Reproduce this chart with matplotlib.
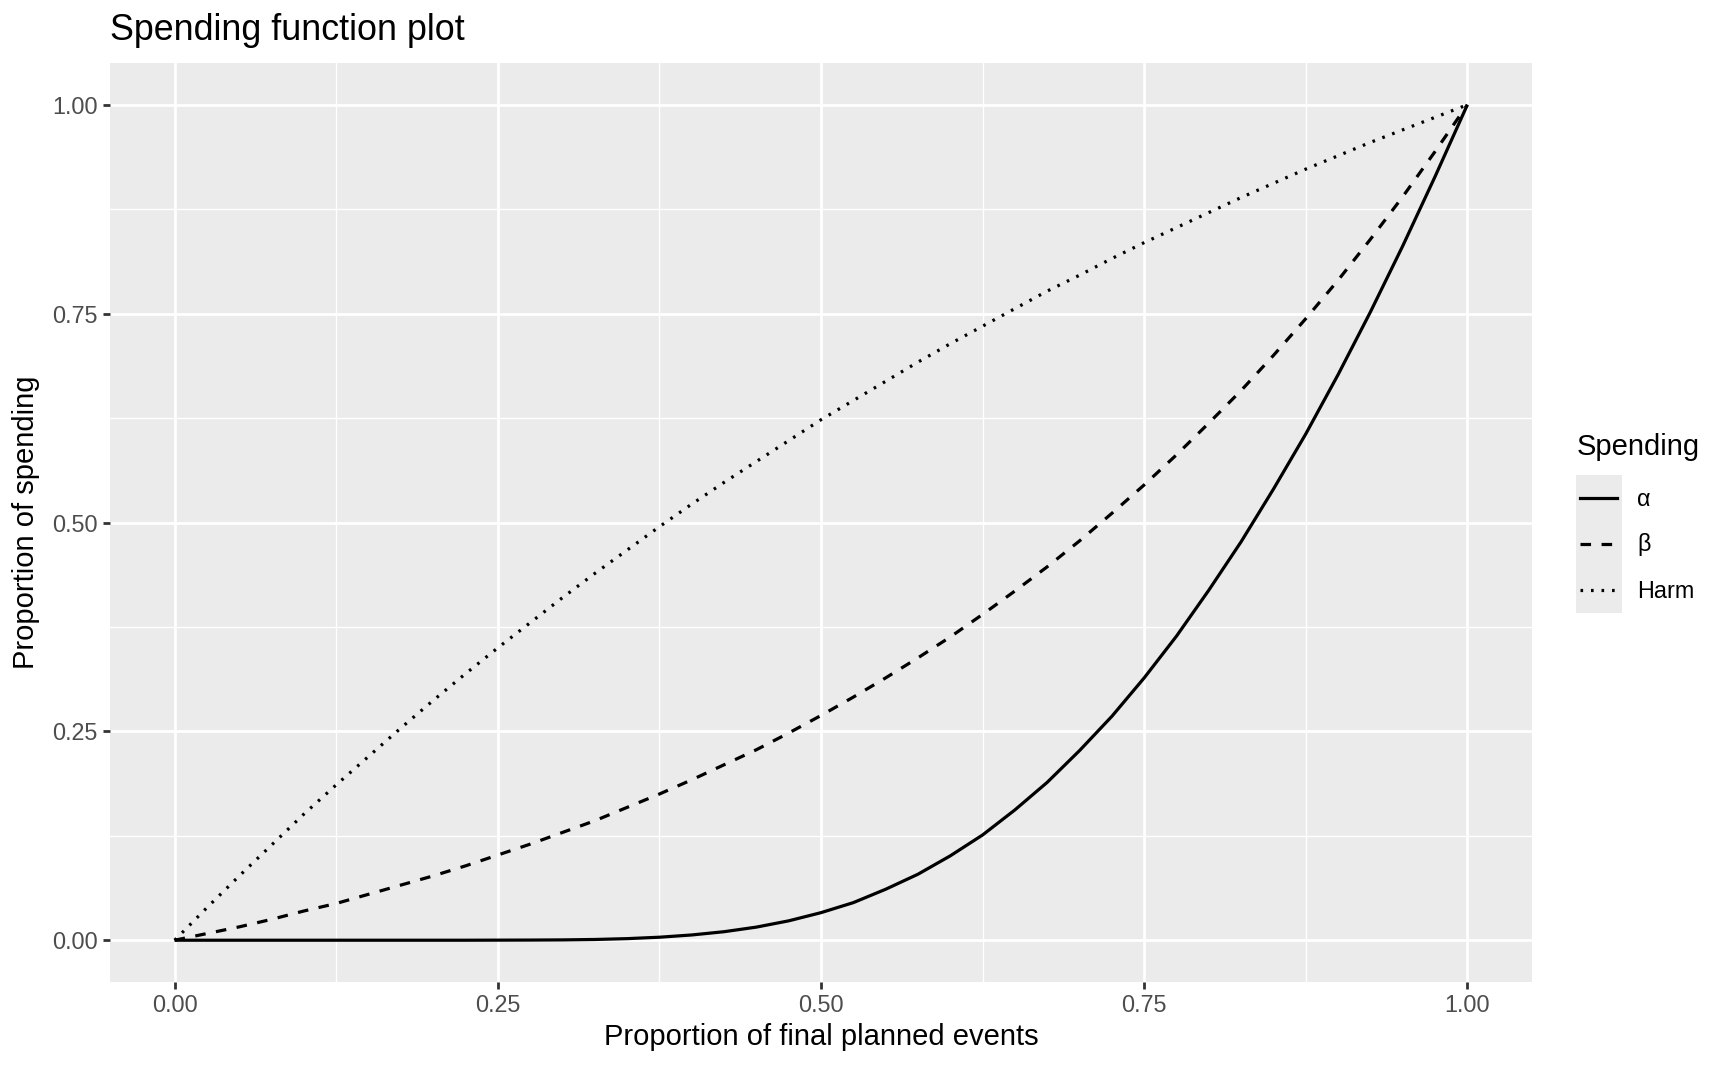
import numpy as np
import matplotlib
matplotlib.use("Agg")
import matplotlib.pyplot as plt
from matplotlib.lines import Line2D

plt.rcParams['font.family'] = ['Liberation Sans', 'DejaVu Sans']

# proportion of final planned events
timing = np.arange(41) / 40

# cumulative proportion of spending
alpha_spend = [0, 0, 0, 0, 0, 0, 0, 0, 0, 0,
               0.0001, 0.0002, 0.0004, 0.0009, 0.0019, 0.0036, 0.0063, 0.0102, 0.0157, 0.0232,
               0.033, 0.045, 0.061, 0.079, 0.101, 0.126, 0.156, 0.189, 0.227, 0.268,
               0.314, 0.364, 0.419, 0.477, 0.540, 0.606, 0.677, 0.752, 0.831, 0.914, 1.0]
beta_spend = [0, 0.008, 0.016, 0.025, 0.035, 0.044, 0.055, 0.066, 0.077, 0.089,
              0.102, 0.115, 0.129, 0.143, 0.159, 0.175, 0.192, 0.210, 0.228, 0.248,
              0.269, 0.291, 0.314, 0.338, 0.363, 0.390, 0.418, 0.447, 0.478, 0.511,
              0.545, 0.581, 0.619, 0.658, 0.700, 0.744, 0.790, 0.839, 0.890, 0.944, 1.0]
harm_spend = [0, 0.039, 0.077, 0.114, 0.151, 0.186, 0.220, 0.254, 0.287, 0.319,
              0.350, 0.380, 0.410, 0.439, 0.467, 0.495, 0.522, 0.548, 0.573, 0.598,
              0.623, 0.646, 0.669, 0.692, 0.714, 0.735, 0.756, 0.777, 0.796, 0.816,
              0.835, 0.853, 0.871, 0.889, 0.906, 0.923, 0.939, 0.955, 0.970, 0.985, 1.0]

series = [('α', alpha_spend), ('β', beta_spend), ('Harm', harm_spend)]
LW = 2.3
styles = {'α': '-', 'β': (0, (3.3, 3.3)), 'Harm': (0, (0.82, 2.47))}

W, H = 1728, 1067
fig = plt.figure(figsize=(W / 100, H / 100), dpi=100)
ax = fig.add_axes([110 / W, 1 - 982 / H, 1422 / W, 919 / H])
ax.set_facecolor('#EBEBEB')
for s in ax.spines.values():
    s.set_visible(False)

for name, vals in series:
    ax.plot(timing, vals, color='black', lw=LW, linestyle=styles[name],
            solid_capstyle='butt', dash_capstyle='butt')

ticks = [0, 0.25, 0.5, 0.75, 1.0]
ax.set_xlim(-0.05, 1.05)
ax.set_ylim(-0.05, 1.05)
ax.set_xticks(ticks)
ax.set_yticks(ticks)
ax.set_xticks([0.125, 0.375, 0.625, 0.875], minor=True)
ax.set_yticks([0.125, 0.375, 0.625, 0.875], minor=True)
ax.set_xticklabels([f'{t:.2f}' for t in ticks])
ax.set_yticklabels([f'{t:.2f}' for t in ticks])
ax.grid(which='major', color='white', lw=2.0)
ax.grid(which='minor', color='white', lw=1.0)
ax.set_axisbelow(True)
ax.tick_params(which='major', length=5, width=2.0, color='#333333',
               labelsize=16.8, labelcolor='#4D4D4D', pad=4)
ax.tick_params(which='minor', length=0)

ax.set_xlabel('Proportion of final planned events', fontsize=21)
ax.set_ylabel('Proportion of spending', fontsize=21)
ax.xaxis.set_label_coords(0.5, (982 - 1037) / 919)
ax.xaxis.label.set_va('center')
ax.yaxis.set_label_coords((26 - 110) / 1422, 0.5)
ax.yaxis.label.set_va('center')

fig.text(110 / W, 1 - 31 / H, 'Spending function plot', fontsize=25.8,
         ha='left', va='center')

# legend, drawn as in ggplot: grey key column, labels to the right
lax = fig.add_axes([1576 / W, 1 - 613 / H, 46 / W, 138 / H])
lax.set_facecolor('#EBEBEB')
lax.set_xlim(0, 1)
lax.set_ylim(0, 3)
lax.set_xticks([])
lax.set_yticks([])
for s in lax.spines.values():
    s.set_visible(False)
fig.text(1577 / W, 1 - 447 / H, 'Spending', fontsize=21, ha='left', va='center')
for i, (name, _) in enumerate(series):
    yk = 2.5 - i
    lax.add_line(Line2D([0.087, 0.89], [yk, yk], color='black', lw=LW,
                        linestyle=styles[name], dash_capstyle='butt'))
    fig.text(1637 / W, 1 - (476 + 46 * (i + 0.5)) / H, name, fontsize=16.8,
             ha='left', va='center')

fig.savefig('out.png', dpi=100)
